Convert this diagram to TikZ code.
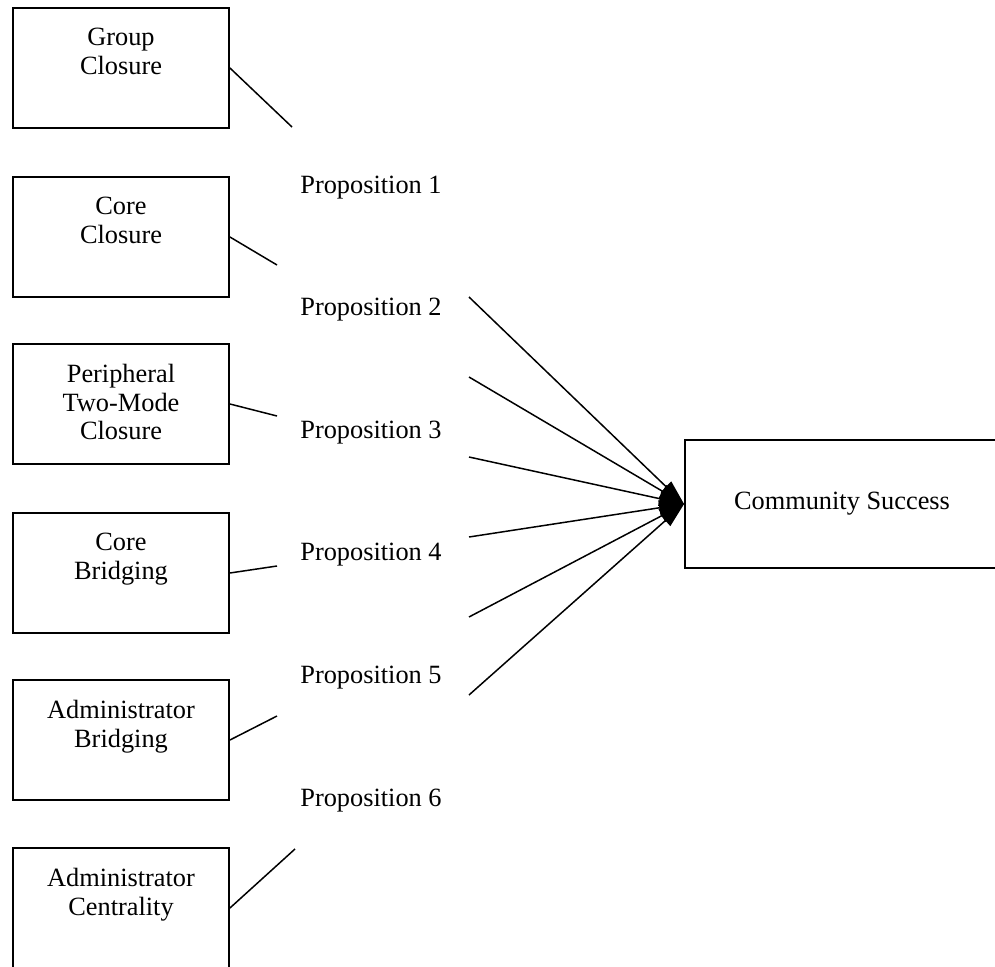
\documentclass[tikz,border=0pt]{standalone}
\usepackage{fontspec}
\setmainfont{Liberation Serif}
\usetikzlibrary{arrows.meta, positioning}

\begin{document}
\begin{tikzpicture}[x=0.02cm, y=-0.02cm, >={Triangle[length=0.5cm, width=0.29cm]},
    font=\fontsize{15}{16.3}\selectfont,
    var/.style={draw, line width=1.1pt, minimum width=4.32cm, minimum height=2.4cm, inner sep=0pt},
    vartext/.style={inner sep=0pt, align=center},
    prop/.style={inner sep=0pt, anchor=base west},
    link/.style={line width=0.85pt}]

    \useasboundingbox (0,0) rectangle (995,967);
    \clip (0,0) rectangle (995,967);

    %define the variables
    \node[var] (gc) at (121,68) {};
    \node[var] (cc) at (121,237) {};
    \node[var] (pc) at (121,404) {};
    \node[var] (cb) at (121,573) {};
    \node[var] (ab) at (121,740) {};
    \node[var] (ac) at (121,908) {};
    \node[vartext] (gct) [below=0.42cm of gc.north] {Group\\Closure};
    \node[vartext] (cct) [below=0.42cm of cc.north] {Core\\Closure};
    \node[vartext] (pct) [below=0.42cm of pc.north] {Peripheral\\Two-Mode\\Closure};
    \node[vartext] (cbt) [below=0.42cm of cb.north] {Core\\Bridging};
    \node[vartext] (abt) [below=0.42cm of ab.north] {Administrator\\Bridging};
    \node[vartext] (act) [below=0.42cm of ac.north] {Administrator\\Centrality};

    %define the outcome
    \node[draw, line width=1.1pt, minimum width=6.28cm, minimum height=2.56cm] (cs) at (842,504) {Community Success};

    %define the propositions
    \node[prop] (p1) at (300,193) {Proposition 1};
    \node[prop] (p2) at (300,315) {Proposition 2};
    \node[prop] (p3) at (300,438) {Proposition 3};
    \node[prop] (p4) at (300,560) {Proposition 4};
    \node[prop] (p5) at (300,683) {Proposition 5};
    \node[prop] (p6) at (300,806) {Proposition 6};

    %define the loose ends
    \coordinate (e1) at (292,127);
    \coordinate (e2) at (277,265);
    \coordinate (e3) at (277,416);
    \coordinate (e4) at (277,566);
    \coordinate (e5) at (277,716);
    \coordinate (e6) at (295,849);
    \coordinate (s1) at (469,297);
    \coordinate (s2) at (469,377);
    \coordinate (s3) at (469,457);
    \coordinate (s4) at (469,537);
    \coordinate (s5) at (469,617);
    \coordinate (s6) at (469,695);

    %define the links
    \path[link] (gc.east) edge (e1)
    (cc.east) edge (e2)
    (pc.east) edge (e3)
    (cb.east) edge (e4)
    (ab.east) edge (e5)
    (ac.east) edge (e6);
    \path[link, ->] (s1) edge (cs.west)
    (s2) edge (cs.west)
    (s3) edge (cs.west)
    (s4) edge (cs.west)
    (s5) edge (cs.west)
    (s6) edge (cs.west);
\end{tikzpicture}
\end{document}
